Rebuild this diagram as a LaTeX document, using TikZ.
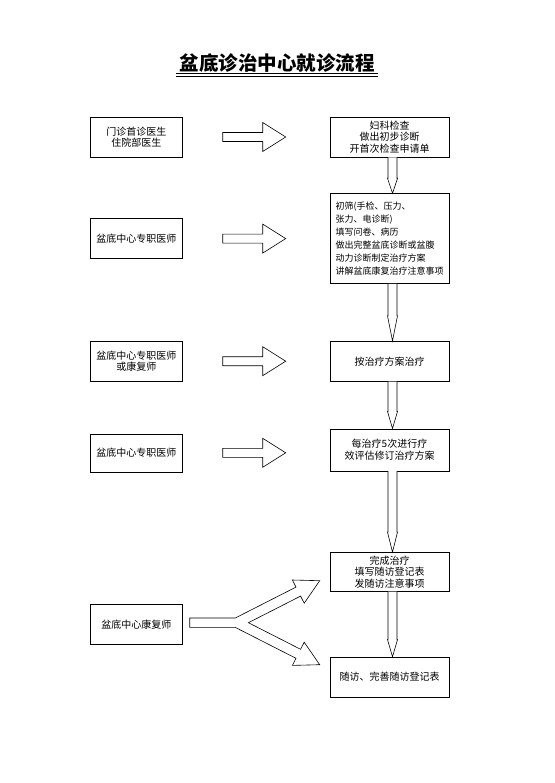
\documentclass[tikz,border=0pt]{standalone}
\usepackage{fontspec}
\setmainfont{Noto Sans CJK SC}
\usetikzlibrary{positioning,calc}

\begin{document}
\begin{tikzpicture}[x=1pt,y=-1pt,
  node distance=36pt and 147pt,
  every node/.style={font=\fontsize{10pt}{11.5pt}\selectfont},
  lbox/.style={rectangle,draw,line width=0.6pt,minimum width=92pt,minimum height=40pt,
               align=center,inner sep=3pt},
  rbox/.style={lbox,minimum width=119pt},
  hollow/.style={draw,line width=0.6pt,line join=miter,fill=white}
]
\useasboundingbox (0,0) rectangle (554,783);
% title with double rule
\node[font=\fontsize{19.5pt}{22pt}\selectfont\bfseries,inner xsep=3pt] (title) at (277,63) {盆底诊治中心就诊流程};
\draw[line width=0.8pt] ($(title.west)+(0,10)$) -- ($(title.east)+(0,10)$);
\draw[line width=0.6pt] ($(title.west)+(0,13)$) -- ($(title.east)+(0,13)$);
% main column
\node[rbox] (r1) at (389.5,137) {妇科检查\\做出初步诊断\\开首次检查申请单};
\node[rbox,below=of r1,minimum height=90pt,align=left,
      font=\fontsize{9pt}{13pt}\selectfont] (r2) {初筛(手检、压力、\\张力、电诊断)\\填写问卷、病历\\做出完整盆底诊断或盆腹\\动力诊断制定治疗方案\\讲解盆底康复治疗注意事项};
\node[rbox,below=57pt of r2] (r3) {按治疗方案治疗};
\node[rbox,below=47pt of r3,minimum height=42pt] (r4) {每治疗5次进行疗\\效评估修订治疗方案};
\node[rbox,below=81pt of r4,minimum height=39pt] (r5) {完成治疗\\填写随访登记表\\发随访注意事项};
\node[rbox,below=65pt of r5] (r6) {随访、完善随访登记表};
% staff column
\node[lbox,left=of r1] (l1) {门诊首诊医生\\住院部医生};
\node[lbox,left=of r2] (l2) {盆底中心专职医师};
\node[lbox,left=of r3] (l3) {盆底中心专职医师\\或康复师};
\node[lbox,left=of r4,yshift=-3pt,minimum height=38pt] (l4) {盆底中心专职医师};
\coordinate (m) at ($(r5.south west)!0.5!(r6.north west)$);
\node[lbox,left=of m] (l5) {盆底中心康复师};
% hollow arrows
\foreach \a in {1,...,4}
  \draw[hollow,shift={($(l\a.east)+(40,0)$)}] (0,-4.5) -- (40,-4.5) -- (40,-14.5)
    -- (63,0) -- (40,14.5) -- (40,4.5) -- (0,4.5) -- cycle;
% narrow down arrows
\foreach \a/\b/\h in {r1/r2/15,r2/r3/25,r3/r4/17,r4/r5/20,r5/r6/17}
  \draw[hollow] ($(\a.south)+(-1.5,0)$) -- ($(\b.north)+(-1.5,-\h)$) -- ($(\b.north)+(-2,-\h)$)
    -- ($(\b.north)+(3,0)$) -- ($(\b.north)+(8,-\h)$) -- ($(\b.north)+(7.5,-\h)$)
    -- ($(\a.south)+(7.5,0)$);
% fork arrow
\draw[hollow,shift={($(l5.east)+(7,-1.5)$)}] (0,-4.7) -- (45.6,-4.7) -- (106.3,-35.6)
  -- (102.7,-42.7) -- (130,-42) -- (114.5,-19.5) -- (110.9,-26.6) -- (58.7,0)
  -- (110.9,26.6) -- (114.5,19.5) -- (130,42) -- (102.7,42.7) -- (106.3,35.6)
  -- (45.6,4.7) -- (0,4.7) -- cycle;
\end{tikzpicture}
\end{document}
